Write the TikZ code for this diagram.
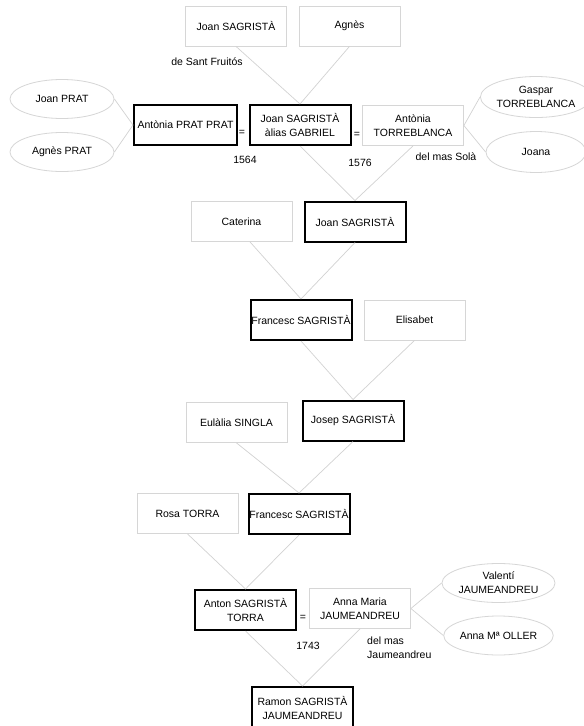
\documentclass[tikz,border=0pt]{standalone}
\usepackage{fontspec}
\setmainfont{Liberation Sans}
\usetikzlibrary{shapes.geometric,calc}
\definecolor{thin}{HTML}{D6D6D6}
\definecolor{conn}{HTML}{D2D2D2}
\tikzset{
  every node/.style={font=\fontsize{10.5}{14}\selectfont, inner sep=0pt, align=center},
  thinbox/.style={draw=thin, line width=0.8pt, minimum width=101pt, minimum height=40pt},
  thickbox/.style={draw=black, line width=2pt, minimum width=101pt, minimum height=40pt},
  oval/.style={ellipse, draw=thin, line width=0.8pt, minimum width=104pt, minimum height=39pt},
  link/.style={draw=conn, line width=0.7pt},
  lbl/.style={}
}
\begin{document}
\begin{tikzpicture}[x=1pt,y=-1pt]
\useasboundingbox (0,0) rectangle (584,726);
\clip (0,0) rectangle (584,726);
\fill[white] (0,0) rectangle (584,726);
% generation 0
\node[thinbox] (js0) at (236,26) {Joan SAGRISTÀ};
\node[thinbox] (ag0) at (349.5,26) {Agnès};
\node[lbl] (dsf) at (207,62) {de Sant Fruitós};
% generation 1
\node[thickbox, minimum width=103pt] (apr) at (185.5,125) {Antònia PRAT PRAT};
\node[lbl] (eq1) at (242,133) {=};
\node[thickbox] (jsg) at (300,125) {Joan SAGRISTÀ\\àlias GABRIEL};
\node[lbl] (eq2) at (357,135) {=};
\node[thinbox] (atb) at (413,125.5) {Antònia\\TORREBLANCA};
\node[lbl] (y1564) at (245,160) {1564};
\node[lbl] (y1576) at (360,163) {1576};
\node[lbl] (sola) at (446,157) {del mas Solà};
\node[oval] (jp) at (62,99) {Joan PRAT};
\node[oval] (agp) at (62,152) {Agnès PRAT};
\node[oval, minimum width=100pt, minimum height=41pt] (gt) at (536,97) {Gaspar\\TORREBLANCA};
\node[oval, minimum width=100pt, minimum height=41pt] (jo) at (536,152) {Joana};
% generation 2
\node[thinbox] (cat) at (241.5,221.5) {Caterina};
\node[thickbox] (js2) at (355,221.5) {Joan SAGRISTÀ};
% generation 3
\node[thickbox] (fs3) at (301,320) {Francesc SAGRISTÀ};
\node[thinbox] (eli) at (414.5,320) {Elisabet};
% generation 4
\node[thinbox] (eul) at (236.5,422.5) {Eulàlia SINGLA};
\node[thickbox] (jos) at (353,420.5) {Josep SAGRISTÀ};
% generation 5
\node[thinbox] (ros) at (187.5,513.5) {Rosa TORRA};
\node[thickbox] (fs5) at (299,514) {Francesc SAGRISTÀ};
% generation 6
\node[thickbox] (ant) at (245.5,610) {Anton SAGRISTÀ\\TORRA};
\node[lbl] (eq3) at (303,618) {=};
\node[thinbox] (ama) at (360,608.5) {Anna Maria\\JAUMEANDREU};
\node[oval] (val) at (498.5,583) {Valentí\\JAUMEANDREU};
\node[oval] (amo) at (498.5,635.5) {Anna Mª OLLER};
\node[lbl] (y1743) at (308,646) {1743};
\node[lbl, anchor=west, align=left] (jau) at (367,647.5) {del mas\\Jaumeandreu};
% generation 7
\node[thickbox, minimum height=42pt] (ram) at (302.5,708) {Ramon SAGRISTÀ\\JAUMEANDREU};
% connectors
\draw[link] (js0.south) -- (jsg.north);
\draw[link] (ag0.south) -- (jsg.north);
\draw[link] (jp.east) -- (apr.west);
\draw[link] (agp.east) -- (apr.west);
\draw[link] (gt.west) -- (atb.east);
\draw[link] (jo.west) -- (atb.east);
\draw[link] (jsg.south) -- (js2.north);
\draw[link] (atb.south) -- (js2.north);
\draw[link] ($(cat.south)+(8.5,0)$) -- (fs3.north);
\draw[link] (js2.south) -- (fs3.north);
\draw[link] (fs3.south) -- (jos.north);
\draw[link] (eli.south) -- (jos.north);
\draw[link] (eul.south) -- (fs5.north);
\draw[link] (jos.south) -- (fs5.north);
\draw[link] (ros.south) -- (ant.north);
\draw[link] (fs5.south) -- (ant.north);
\draw[link] (val.west) -- (ama.east);
\draw[link] (amo.west) -- (ama.east);
\draw[link] (ant.south) -- (ram.north);
\draw[link] (ama.south) -- (ram.north);
\end{tikzpicture}
\end{document}
